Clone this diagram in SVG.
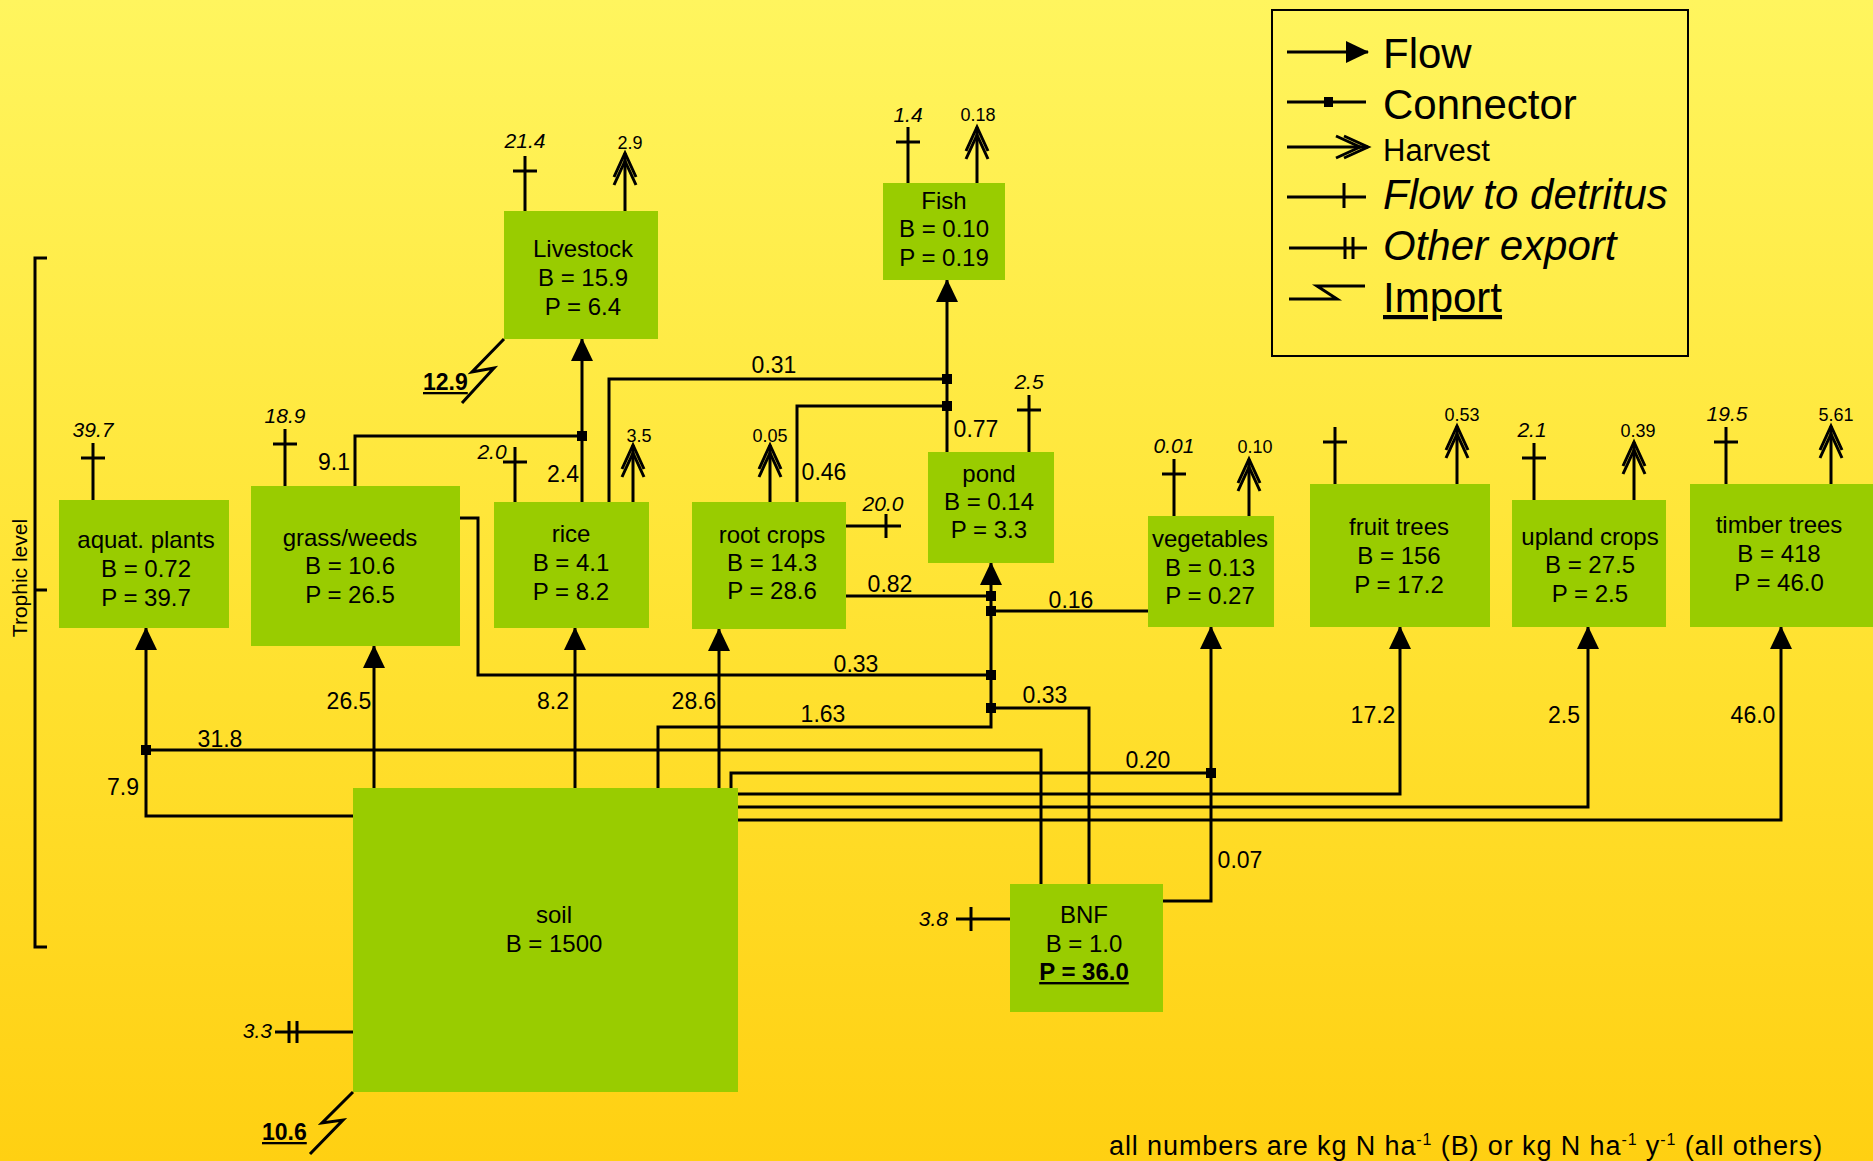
<svg xmlns="http://www.w3.org/2000/svg" width="1873" height="1161" viewBox="0 0 1873 1161">
<defs>
<linearGradient id="bg" x1="0" y1="0" x2="0" y2="1">
<stop offset="0" stop-color="#FFF55E"/>
<stop offset="0.5" stop-color="#FFE435"/>
<stop offset="1" stop-color="#FFD012"/>
</linearGradient>
<marker id="arrow" markerUnits="userSpaceOnUse" orient="auto" overflow="visible" refX="0" refY="0" markerWidth="24" markerHeight="24">
<path d="M-22,-11 L1,0 L-22,11 Z" fill="#000"/>
</marker>
<marker id="harvest" markerUnits="userSpaceOnUse" orient="auto" overflow="visible" refX="0" refY="0" markerWidth="40" markerHeight="28">
<path d="M-24,-11 L0,0 L-24,11 M-32,-11 L-8,0 L-32,11" fill="none" stroke="#000" stroke-width="3"/>
</marker>
<marker id="detritus" markerUnits="userSpaceOnUse" orient="auto" overflow="visible" refX="0" refY="0" markerWidth="30" markerHeight="30">
<path d="M-15,-12 V12" fill="none" stroke="#000" stroke-width="3"/>
</marker>
<marker id="export" markerUnits="userSpaceOnUse" orient="auto" overflow="visible" refX="0" refY="0" markerWidth="30" markerHeight="30">
<path d="M-14,-11 V11 M-22,-11 V11" fill="none" stroke="#000" stroke-width="3"/>
</marker>
</defs>
<style>
.box{fill:#99CC00}
.nt{font-family:"Liberation Sans",Arial,sans-serif;font-size:24px;fill:#000;text-anchor:middle}
.ln{fill:none;stroke:#000;stroke-width:3}
.fl{fill:none;stroke:#000;stroke-width:3;marker-end:url(#arrow)}
.hv{fill:none;stroke:#000;stroke-width:3;marker-end:url(#harvest)}
.dt{fill:none;stroke:#000;stroke-width:3;marker-end:url(#detritus)}
.ex{fill:none;stroke:#000;stroke-width:3;marker-end:url(#export)}
.sq{fill:#000}
.lb{font-family:"Liberation Sans",Arial,sans-serif;font-size:23px;fill:#000;text-anchor:middle}
.dl{font-family:"Liberation Sans",Arial,sans-serif;font-size:21px;font-style:italic;fill:#000;text-anchor:middle}
.dr{font-family:"Liberation Sans",Arial,sans-serif;font-size:21px;font-style:italic;fill:#000;text-anchor:end}
.hl{font-family:"Liberation Sans",Arial,sans-serif;font-size:18px;fill:#000;text-anchor:middle}
.im{font-family:"Liberation Sans",Arial,sans-serif;font-size:23px;font-weight:bold;fill:#000;text-decoration:underline}
.lg{font-family:"Liberation Sans",Arial,sans-serif;font-size:42px;fill:#000}
.lgs{font-family:"Liberation Sans",Arial,sans-serif;font-size:31px;fill:#000}
.lgi{font-family:"Liberation Sans",Arial,sans-serif;font-size:42px;font-style:italic;fill:#000}
</style>
<rect x="0" y="0" width="1873" height="1161" fill="url(#bg)"/>

<!-- Trophic level axis -->
<g id="trophic-axis">
<path class="ln" d="M47,258 H35 V947 H47 M35,590 H47"/>
<text transform="translate(27,578) rotate(-90)" font-family="Liberation Sans, Arial, sans-serif" font-size="21" text-anchor="middle">Trophic level</text>
</g>

<!-- Connectors -->
<g id="connectors">
<path class="fl" d="M353,816 H146 V628"/>
<path class="ln" d="M1041,884 V750 H146"/>
<path class="fl" d="M374,788 V646"/>
<path class="ln" d="M355,486 V436 H582"/>
<path class="fl" d="M582,502 V339"/>
<path class="fl" d="M575,788 V628"/>
<path class="ln" d="M609,502 V379 H947"/>
<path class="fl" d="M719,788 V629"/>
<path class="ln" d="M797,502 V406 H947"/>
<path class="fl" d="M947,452 V280"/>
<path class="ln" d="M846,596 H991"/>
<path class="ln" d="M1148,611 H991"/>
<path class="ln" d="M460,518 H478 V675 H991"/>
<path class="fl" d="M658,788 V727 H991 V563"/>
<path class="ln" d="M1089,884 V708 H991"/>
<path class="ln" d="M731,788 V773 H1211"/>
<path class="fl" d="M1163,901 H1211 V627"/>
<path class="fl" d="M737,794 H1400 V627"/>
<path class="fl" d="M737,807 H1588 V627"/>
<path class="fl" d="M737,820 H1781 V627"/>
<rect class="sq" x="141" y="745" width="10" height="10"/>
<rect class="sq" x="577" y="431" width="10" height="10"/>
<rect class="sq" x="942" y="374" width="10" height="10"/>
<rect class="sq" x="942" y="401" width="10" height="10"/>
<rect class="sq" x="986" y="591" width="10" height="10"/>
<rect class="sq" x="986" y="606" width="10" height="10"/>
<rect class="sq" x="986" y="670" width="10" height="10"/>
<rect class="sq" x="986" y="703" width="10" height="10"/>
<rect class="sq" x="1206" y="768" width="10" height="10"/>
<path class="dt" d="M93,500 V443"/>
<path class="dt" d="M285,486 V429"/>
<path class="dt" d="M525,211 V156"/>
<path class="dt" d="M515,502 V447"/>
<path class="dt" d="M846,526 H901"/>
<path class="dt" d="M1029,452 V395"/>
<path class="dt" d="M908,183 V127"/>
<path class="dt" d="M1174,516 V459"/>
<path class="dt" d="M1335,484 V427"/>
<path class="dt" d="M1534,500 V443"/>
<path class="dt" d="M1726,484 V427"/>
<path class="dt" d="M1010,919 H956"/>
<path class="hv" d="M625,211 V153"/>
<path class="hv" d="M633,502 V445"/>
<path class="hv" d="M770,502 V445"/>
<path class="hv" d="M977,183 V127"/>
<path class="hv" d="M1249,516 V459"/>
<path class="hv" d="M1457,484 V426"/>
<path class="hv" d="M1634,500 V442"/>
<path class="hv" d="M1831,484 V426"/>
<path class="ex" d="M353,1032 H275"/>
<path class="ln" d="M504,339 L472,372 L494,368 L462,403"/>
<path class="ln" d="M353,1092 L322,1123 L343,1120 L310,1154"/>
</g>

<!-- Connector labels -->
<g id="labels">
<text class="dl" x="93" y="437">39.7</text>
<text class="dl" x="285" y="423">18.9</text>
<text class="lb" x="334" y="470">9.1</text>
<text class="dl" x="525" y="148">21.4</text>
<text class="hl" x="630" y="149">2.9</text>
<text class="im" x="423" y="390">12.9</text>
<text class="lb" x="563" y="482">2.4</text>
<text class="dl" x="492" y="459">2.0</text>
<text class="hl" x="639" y="442">3.5</text>
<text class="hl" x="770" y="442">0.05</text>
<text class="lb" x="774" y="373">0.31</text>
<text class="lb" x="824" y="480">0.46</text>
<text class="dl" x="883" y="511">20.0</text>
<text class="lb" x="890" y="592">0.82</text>
<text class="lb" x="976" y="437">0.77</text>
<text class="dl" x="1029" y="389">2.5</text>
<text class="dl" x="908" y="122">1.4</text>
<text class="hl" x="978" y="121">0.18</text>
<text class="lb" x="1071" y="608">0.16</text>
<text class="dl" x="1174" y="453">0.01</text>
<text class="hl" x="1255" y="453">0.10</text>
<text class="hl" x="1462" y="421">0.53</text>
<text class="dl" x="1532" y="437">2.1</text>
<text class="hl" x="1638" y="437">0.39</text>
<text class="dl" x="1727" y="421">19.5</text>
<text class="hl" x="1836" y="421">5.61</text>
<text class="lb" x="856" y="672">0.33</text>
<text class="lb" x="1045" y="703">0.33</text>
<text class="lb" x="823" y="722">1.63</text>
<text class="lb" x="220" y="747">31.8</text>
<text class="lb" x="123" y="795">7.9</text>
<text class="lb" x="349" y="709">26.5</text>
<text class="lb" x="553" y="709">8.2</text>
<text class="lb" x="694" y="709">28.6</text>
<text class="lb" x="1148" y="768">0.20</text>
<text class="lb" x="1373" y="723">17.2</text>
<text class="lb" x="1564" y="723">2.5</text>
<text class="lb" x="1753" y="723">46.0</text>
<text class="lb" x="1240" y="868">0.07</text>
<text class="dr" x="948" y="926">3.8</text>
<text class="dr" x="272" y="1038">3.3</text>
<text class="im" x="262" y="1140">10.6</text>
</g>

<!-- Nodes -->
<g id="aquat-plants"><rect class="box" x="59" y="500" width="170" height="128"/>
<text class="nt" x="146" y="548">aquat. plants<tspan x="146" dy="29">B = 0.72</tspan><tspan x="146" dy="29">P = 39.7</tspan></text></g>
<g id="grass-weeds"><rect class="box" x="251" y="486" width="209" height="160"/>
<text class="nt" x="350" y="546">grass/weeds<tspan x="350" dy="28">B = 10.6</tspan><tspan x="350" dy="29">P = 26.5</tspan></text></g>
<g id="livestock"><rect class="box" x="504" y="211" width="154" height="128"/>
<text class="nt" x="583" y="257">Livestock<tspan x="583" dy="29">B = 15.9</tspan><tspan x="583" dy="29">P = 6.4</tspan></text></g>
<g id="rice"><rect class="box" x="494" y="502" width="155" height="126"/>
<text class="nt" x="571" y="542">rice<tspan x="571" dy="29">B = 4.1</tspan><tspan x="571" dy="29">P = 8.2</tspan></text></g>
<g id="root-crops"><rect class="box" x="692" y="502" width="154" height="127"/>
<text class="nt" x="772" y="543">root crops<tspan x="772" dy="28">B = 14.3</tspan><tspan x="772" dy="28">P = 28.6</tspan></text></g>
<g id="fish"><rect class="box" x="883" y="183" width="122" height="97"/>
<text class="nt" x="944" y="209">Fish<tspan x="944" dy="28">B = 0.10</tspan><tspan x="944" dy="29">P = 0.19</tspan></text></g>
<g id="pond"><rect class="box" x="928" y="452" width="126" height="111"/>
<text class="nt" x="989" y="482">pond<tspan x="989" dy="28">B = 0.14</tspan><tspan x="989" dy="28">P = 3.3</tspan></text></g>
<g id="vegetables"><rect class="box" x="1148" y="516" width="126" height="111"/>
<text class="nt" x="1210" y="547">vegetables<tspan x="1210" dy="29">B = 0.13</tspan><tspan x="1210" dy="28">P = 0.27</tspan></text></g>
<g id="fruit-trees"><rect class="box" x="1310" y="484" width="180" height="143"/>
<text class="nt" x="1399" y="535">fruit trees<tspan x="1399" dy="29">B = 156</tspan><tspan x="1399" dy="29">P = 17.2</tspan></text></g>
<g id="upland-crops"><rect class="box" x="1512" y="500" width="154" height="127"/>
<text class="nt" x="1590" y="545">upland crops<tspan x="1590" dy="28">B = 27.5</tspan><tspan x="1590" dy="29">P = 2.5</tspan></text></g>
<g id="timber-trees"><rect class="box" x="1690" y="484" width="183" height="143"/>
<text class="nt" x="1779" y="533">timber trees<tspan x="1779" dy="29">B = 418</tspan><tspan x="1779" dy="29">P = 46.0</tspan></text></g>
<g id="soil"><rect class="box" x="353" y="788" width="385" height="304"/>
<text class="nt" x="554" y="923">soil<tspan x="554" dy="29">B = 1500</tspan></text></g>
<g id="bnf"><rect class="box" x="1010" y="884" width="153" height="128"/>
<text class="nt" x="1084" y="923">BNF<tspan x="1084" dy="29">B = 1.0</tspan><tspan x="1084" dy="28" font-weight="bold" text-decoration="underline">P = 36.0</tspan></text></g>

<!-- Legend -->
<g id="legend">
<rect x="1272" y="10" width="416" height="346" fill="none" stroke="#000" stroke-width="2"/>
<path class="fl" d="M1287,52 H1368"/>
<path class="ln" d="M1287,102 H1366"/>
<rect class="sq" x="1324" y="97" width="9" height="10"/>
<path class="hv" d="M1287,147 H1368"/>
<path class="ln" d="M1287,197 H1366 M1344,183 V208"/>
<path class="ln" d="M1289,248 H1367 M1345,237 V259 M1353,237 V259"/>
<path class="ln" d="M1289,299 H1337 L1317,286 H1365"/>
<text class="lg" x="1383" y="68">Flow</text>
<text class="lg" x="1383" y="119">Connector</text>
<text class="lgs" x="1383" y="161">Harvest</text>
<text class="lgi" x="1383" y="209">Flow to detritus</text>
<text class="lgi" x="1383" y="260">Other export</text>
<text class="lg" x="1383" y="312" text-decoration="underline">Import</text>
</g>

<text id="footer" x="1109" y="1155" font-family="Liberation Sans, Arial, sans-serif" font-size="27" letter-spacing="0.9">all numbers are kg N ha<tspan dy="-10" font-size="16">-1</tspan><tspan dy="10"> (B) or kg N ha</tspan><tspan dy="-10" font-size="16">-1</tspan><tspan dy="10"> y</tspan><tspan dy="-10" font-size="16">-1</tspan><tspan dy="10"> (all others)</tspan></text>
</svg>
